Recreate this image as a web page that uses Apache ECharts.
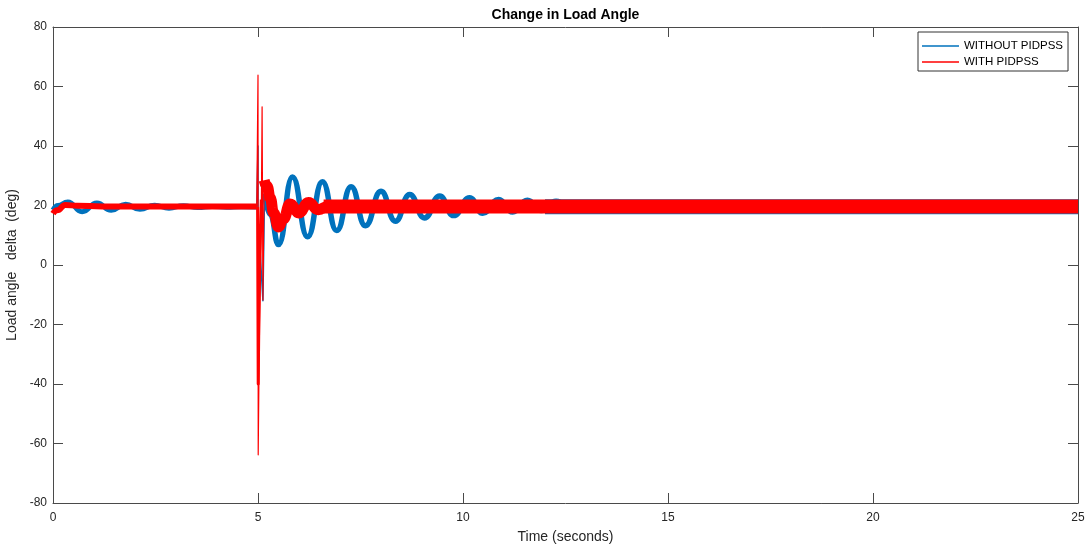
<!DOCTYPE html>
<html>
<head>
<meta charset="utf-8">
<script src="https://cdn.jsdelivr.net/npm/echarts@6/dist/echarts.min.js"></script>
<style>
html,body{margin:0;padding:0;background:#fff;}
#chart{width:1090px;height:546px;}
</style>
</head>
<body>
<div id="chart"></div>
<script>
// ---- Data ----
const chartTitle = 'Change in Load Angle';
const xName = 'Time (seconds)';
const yName = 'Load angle   delta  (deg)';
const seriesNames = ['WITHOUT PIDPSS', 'WITH PIDPSS'];

// WITHOUT PIDPSS — centre of the thick trace before the fault (peaks / troughs)
const blueT1 = [0, 0.12, 0.36, 0.71, 1.07, 1.42, 1.77, 2.12, 2.48, 2.83, 3.18, 3.53, 3.88, 4.23, 4.59, 4.97];
const blueV1 = [18.5, 20.0, 21.2, 17.9, 20.8, 18.4, 20.4, 18.7, 20.1, 19.1, 19.9, 19.3, 19.7, 19.4, 19.6, 19.5];
// fault transient (thin trace)
const blueSpikeT = [4.97, 5.00, 5.005, 5.05, 5.12, 5.16];
const blueSpikeV = [19.6, 40, -15, 5, -12, 24];
// after the fault: decaying swing (peaks / troughs)
const blueT2 = [5.16, 5.30, 5.50, 5.84, 6.21, 6.57, 6.92, 7.27, 7.62, 8.00, 8.35, 8.70, 9.06, 9.43, 9.77, 10.16, 10.48, 10.87, 11.21, 11.57, 11.91, 12.27, 12.6];
const blueV2 = [24.0, 17.0, 6.9, 29.6, 9.5, 28.0, 11.6, 26.3, 13.2, 24.8, 14.7, 23.7, 15.8, 23.2, 16.6, 22.6, 17.4, 22.0, 17.8, 21.8, 18.3, 21.4, 18.2];
// settled fuzzy band (centre)
const blueT3 = [12.0, 15, 20, 25];
const blueV3 = [19.6, 19.6, 19.6, 19.6];

// WITH PIDPSS — centre before the fault
const redT1 = [0, 0.1, 0.3, 0.6, 1.2, 2.5, 4.0, 4.97];
const redV1 = [17.3, 18.4, 20.2, 19.9, 19.7, 19.7, 19.65, 19.65];
// fault transient
const redSpikeT = [4.97, 5.00, 5.005, 5.02, 5.05, 5.08, 5.10, 5.12, 5.15];
const redSpikeV = [19.6, 63.8, -63.8, -42, -5, 15, 53.2, -11.8, 27];
const redThickT = [4.99, 5.005, 5.02, 5.05, 5.08];
const redThickV = [19.5, -40, -20, 5, 22];
// after the fault: damped swing
const redT2 = [5.15, 5.22, 5.30, 5.38, 5.50, 5.62, 5.78, 6.00, 6.23, 6.47, 6.70, 6.9];
const redV2 = [28.5, 26.5, 22.5, 17.5, 12.8, 15.5, 20.5, 17.5, 21.0, 18.6, 19.7, 19.7];
// settled fuzzy band (centre)
const redT3 = [6.6, 8, 12, 16, 20, 25];
const redV3 = [19.7, 19.65, 19.7, 19.7, 19.7, 19.7];

const xTicks = {min: 0, max: 25, step: 5};
const yTicks = {min: -80, max: 80, step: 20};

// ---- Styles ----
const BLUE = '#0072BD';
const RED = '#FF0000';
const AX = '#4a4a4a';
const TXT = '#262626';
const FONT = '"Liberation Sans", Arial, Helvetica, sans-serif';

function zip(T, V) { return T.map((t, i) => [t, V[i]]); }

function trace(name, T, V, color, w, smooth) {
  return {
    type: 'line', name: name, data: zip(T, V), showSymbol: false, symbol: 'none',
    smooth: smooth || false, smoothMonotone: 'x',
    lineStyle: { color: color, width: w, cap: 'butt', join: 'round' },
    itemStyle: { color: color },
    silent: true, clip: true
  };
}

const axisCommon = {
  axisLine: { show: true, onZero: false, lineStyle: { color: AX, width: 1 } },
  axisTick: { show: true, inside: true, length: 10, lineStyle: { color: AX, width: 1 } },
  splitLine: { show: false }
};

const option = {
  animation: false,
  backgroundColor: '#ffffff',
  textStyle: { fontFamily: FONT },
  title: {
    text: chartTitle, left: 565.5, top: 8, textAlign: 'center', padding: 0,
    textStyle: { fontFamily: FONT, fontSize: 14, fontWeight: 'bold', color: '#000' }
  },
  legend: {
    orient: 'vertical', left: 918, top: 32,
    padding: [7, 5, 2, 4], itemGap: 2,
    itemWidth: 37, itemHeight: 1.5,
    backgroundColor: '#fff', borderColor: '#333', borderWidth: 1,
    textStyle: { fontFamily: FONT, fontSize: 11.5, color: '#000', lineHeight: 14 },
    data: [
      { name: seriesNames[0], icon: 'rect', itemStyle: { color: BLUE } },
      { name: seriesNames[1], icon: 'rect', itemStyle: { color: RED } }
    ]
  },
  grid: { left: 53, right: 12, top: 27, bottom: 43, containLabel: false, outerBoundsMode: 'none' },
  xAxis: [
    Object.assign({
      type: 'value', position: 'bottom', min: xTicks.min, max: xTicks.max, interval: xTicks.step,
      name: xName, nameLocation: 'middle', nameGap: 27,
      nameTextStyle: { fontFamily: FONT, fontSize: 14, color: TXT },
      axisLabel: { fontFamily: FONT, fontSize: 12, color: TXT, margin: 9 }
    }, axisCommon),
    Object.assign({
      type: 'value', position: 'top', min: xTicks.min, max: xTicks.max, interval: xTicks.step,
      axisLabel: { show: false }
    }, axisCommon)
  ],
  yAxis: [
    Object.assign({
      type: 'value', position: 'left', min: yTicks.min, max: yTicks.max, interval: yTicks.step,
      name: yName, nameLocation: 'middle', nameGap: 28,
      nameTextStyle: { fontFamily: FONT, fontSize: 14, color: TXT },
      axisLabel: { fontFamily: FONT, fontSize: 12, color: TXT, margin: 6 }
    }, axisCommon),
    Object.assign({
      type: 'value', position: 'right', min: yTicks.min, max: yTicks.max, interval: yTicks.step,
      axisLabel: { show: false }
    }, axisCommon)
  ],
  series: [
    trace(seriesNames[0], blueT1, blueV1, BLUE, 5, 0.5),
    trace(seriesNames[0], blueSpikeT, blueSpikeV, BLUE, 1.5),
    trace(seriesNames[0], blueT2, blueV2, BLUE, 5.5, 0.5),
    trace(seriesNames[0], blueT3, blueV3, BLUE, 15),
    trace(seriesNames[1], redT1, redV1, RED, 6, 0.5),
    trace(seriesNames[1], redSpikeT, redSpikeV, RED, 1.2),
    trace(seriesNames[1], redThickT, redThickV, RED, 3),
    trace(seriesNames[1], redT2, redV2, RED, 11, 0.5),
    trace(seriesNames[1], redT3, redV3, RED, 14)
  ]
};

const chart = echarts.init(document.getElementById('chart'), null, { renderer: 'canvas' });
chart.setOption(option);
</script>
</body>
</html>
